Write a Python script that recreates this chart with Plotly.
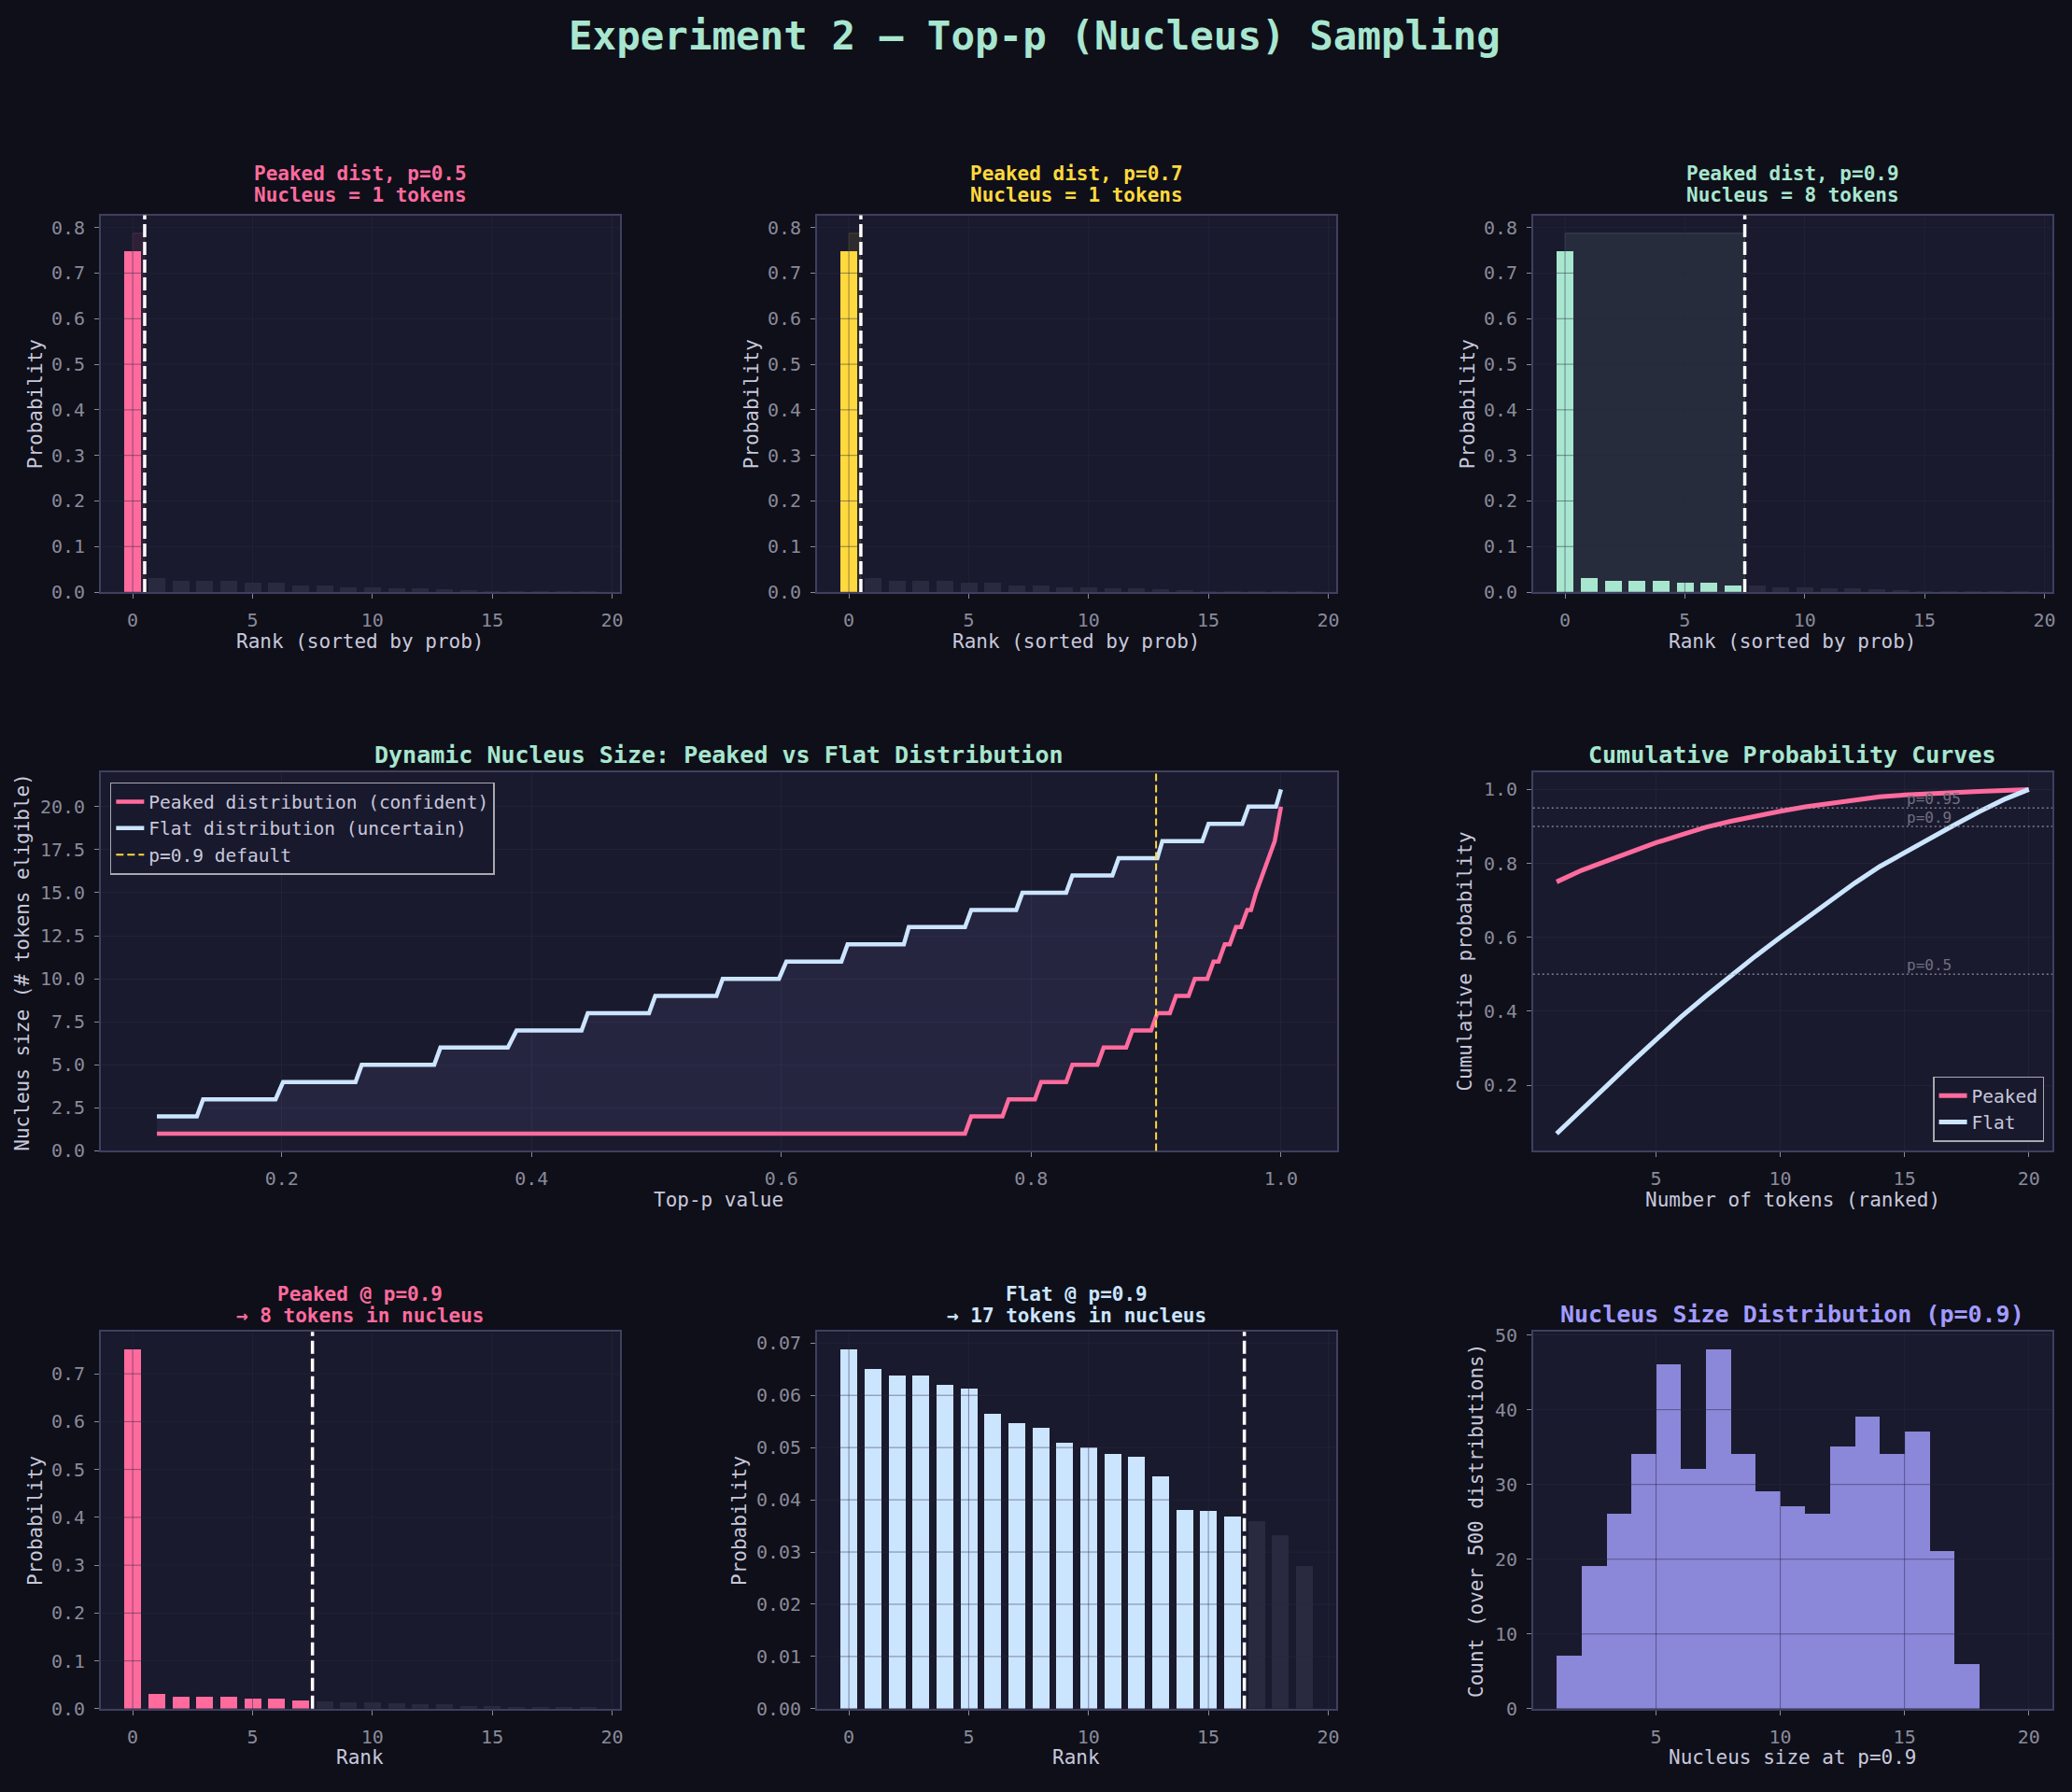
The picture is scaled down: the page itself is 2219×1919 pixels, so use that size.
import numpy as np
import plotly.graph_objects as go

W, H = 2219, 1919
FONT = "DejaVu Sans Mono"

# ---------------- data ----------------
ranks = list(range(20))
peaked_probs = [0.750, 0.031, 0.025, 0.025, 0.025, 0.021, 0.021, 0.016, 0.015, 0.012,
                0.012, 0.010, 0.009, 0.008, 0.005, 0.004, 0.003, 0.003, 0.002, 0.003]
flat_probs = [0.0687, 0.0650, 0.0637, 0.0637, 0.0619, 0.0613, 0.0564, 0.0547, 0.0537, 0.0509,
              0.0500, 0.0487, 0.0482, 0.0445, 0.0380, 0.0378, 0.0367, 0.0358, 0.0332, 0.0272]
top_p_values = [0.5, 0.7, 0.9]
P_DEFAULT = 0.9

# nucleus size vs top-p (plateaus: size, p where plateau starts, p where it ends)
peaked_sizes = [1, 2, 3, 4, 5, 6, 7, 8, 9, 10, 11, 12, 13, 14, 15, 16, 17, 18, 20]
peaked_p_from = [0.100, 0.752, 0.782, 0.808, 0.833, 0.858, 0.881, 0.901, 0.916, 0.931,
                 0.946, 0.955, 0.964, 0.973, 0.980, 0.985, 0.990, 0.995, 1.000]
peaked_p_to = [0.747, 0.777, 0.803, 0.828, 0.853, 0.876, 0.896, 0.911, 0.926, 0.941,
               0.950, 0.959, 0.968, 0.976, 0.980, 0.985, 0.990, 0.995, 1.000]
flat_sizes = [2, 3, 4, 5, 6, 7, 8, 9, 10, 11, 12, 13, 14, 15, 16, 17, 18, 19, 20, 21]
flat_p_from = [0.100, 0.137, 0.201, 0.264, 0.327, 0.388, 0.445, 0.499, 0.553, 0.604,
               0.653, 0.702, 0.752, 0.793, 0.833, 0.870, 0.905, 0.942, 0.974, 1.000]
flat_p_to = [0.132, 0.195, 0.259, 0.322, 0.381, 0.440, 0.494, 0.548, 0.598, 0.648,
             0.698, 0.747, 0.788, 0.828, 0.865, 0.901, 0.937, 0.969, 0.996, 1.000]

token_counts = list(range(1, 21))
threshold_values = [0.5, 0.9, 0.95]
threshold_labels = ["p=0.5", "p=0.9", "p=0.95"]
THRESH_LABEL_X = 15

hist_bin_left = list(range(1, 18))
hist_counts = [7, 19, 26, 34, 46, 32, 48, 34, 29, 27, 26, 35, 39, 34, 37, 21, 6]

# tick labels
rank_ticks = [0, 5, 10, 15, 20]
prob_ticks_top = [0.0, 0.1, 0.2, 0.3, 0.4, 0.5, 0.6, 0.7, 0.8]
prob_ticks_peaked = [0.0, 0.1, 0.2, 0.3, 0.4, 0.5, 0.6, 0.7]
prob_ticks_flat = [0.00, 0.01, 0.02, 0.03, 0.04, 0.05, 0.06, 0.07]
topp_ticks = [0.2, 0.4, 0.6, 0.8, 1.0]
size_ticks = [0.0, 2.5, 5.0, 7.5, 10.0, 12.5, 15.0, 17.5, 20.0]
count_ticks = [5, 10, 15, 20]
cum_ticks = [0.2, 0.4, 0.6, 0.8, 1.0]
hist_y_ticks = [0, 10, 20, 30, 40, 50]

# ---------------- style ----------------
BG = "#0e0f19"
AX_BG = "#1a1a2e"
SPINE = "#3f3f60"
GRID = "rgba(40,40,66,0.5)"
TICKLAB = "#8a8a9a"
AXLAB = "#c8c8dc"
PINK = "#ff6b9d"
YELLOW = "#ffd93d"
MINT = "#a8e6cf"
BLUE = "#cce5ff"
LAV = "#a29bfe"
HIST = "#8b87d9"
DIM = "#29293f"
TOP_COLORS = [PINK, YELLOW, MINT]


def rgba(hexc, a):
    h = hexc.lstrip("#")
    return "rgba(%d,%d,%d,%s)" % (int(h[0:2], 16), int(h[2:4], 16), int(h[4:6], 16), a)


# axes boxes in pixels: left, right, top, bottom
AX = {
    1: (108, 665, 224, 632),
    2: (876, 1433, 224, 632),
    3: (1644, 2201, 224, 632),
    4: (108, 1434, 827, 1237),
    5: (1644, 2201, 827, 1237),
    6: (108, 665, 1433, 1841),
    7: (876, 1433, 1433, 1841),
    8: (1644, 2201, 1433, 1841),
}


def px2x(p):
    return p / W


def px2y(p):
    return 1 - p / H


def sfx(i):
    return "" if i == 1 else str(i)


fig = go.Figure()
shapes = []
annotations = []
layout_axes = {}


def setup_axis(i, xrange, yrange, xticks, yticks, xfmt, yfmt, native_grid):
    s = sfx(i)
    x0, x1, y0, y1 = AX[i]
    common = dict(showline=True, mirror=True, linecolor=SPINE, linewidth=1.5,
                  ticks="outside", ticklen=5, tickwidth=1.2, tickcolor=TICKLAB,
                  tickfont=dict(family=FONT, size=20, color=TICKLAB),
                  ticklabelstandoff=6,
                  zeroline=False, showgrid=native_grid, gridcolor=GRID, gridwidth=1)
    layout_axes["xaxis" + s] = dict(domain=[px2x(x0), px2x(x1)], anchor="y" + s, range=xrange,
                                    tickvals=xticks, tickformat=xfmt, **common)
    layout_axes["yaxis" + s] = dict(domain=[px2y(y1), px2y(y0)], anchor="x" + s, range=yrange,
                                    tickvals=yticks, tickformat=yfmt, **common)


def grid_shapes(i, xticks, yticks, xrange, yrange):
    s = sfx(i)
    for t in xticks:
        if xrange[0] <= t <= xrange[1]:
            shapes.append(dict(type="line", layer="above", xref="x" + s, yref="y" + s + " domain",
                               x0=t, x1=t, y0=0, y1=1, line=dict(color=GRID, width=1)))
    for t in yticks:
        if yrange[0] <= t <= yrange[1]:
            shapes.append(dict(type="line", layer="above", xref="x" + s + " domain", yref="y" + s,
                               x0=0, x1=1, y0=t, y1=t, line=dict(color=GRID, width=1)))


def text_at(xpx, ypx, text, size, color, bold=False, angle=0):
    annotations.append(dict(x=px2x(xpx), y=px2y(ypx), xref="paper", yref="paper",
                            text=("<b>%s</b>" % text) if bold else text, showarrow=False,
                            xanchor="center", yanchor="middle", textangle=angle,
                            font=dict(family=FONT, size=size, color=color)))


def nucleus_size(probs, p):
    return int(np.searchsorted(np.cumsum(probs), p) + 1)


bar_lo = ranks[0] - 0.35
bar_hi = ranks[-1] + 0.35
bar_pad = 0.05 * (bar_hi - bar_lo)
bar_xrange = [bar_lo - bar_pad, bar_hi + bar_pad]


def cutoff_line(i, n):
    s = sfx(i)
    shapes.append(dict(type="line", layer="above", xref="x" + s, yref="y" + s + " domain",
                       x0=n - 0.5, x1=n - 0.5, y0=0, y1=1,
                       line=dict(color="white", width=3.5, dash="14px,5px")))


# ---------------- top row ----------------
for k, p in enumerate(top_p_values):
    i = k + 1
    s = sfx(i)
    c = TOP_COLORS[k]
    n = nucleus_size(peaked_probs, p)
    cols = [c if r < n else DIM for r in ranks]
    fig.add_trace(go.Bar(x=ranks, y=peaked_probs, width=0.7, marker=dict(color=cols, line=dict(width=0)),
                         xaxis="x" + s, yaxis="y" + s, showlegend=False))
    rect_top = max(peaked_probs) * 1.05
    shapes.append(dict(type="rect", layer="below", xref="x" + s, yref="y" + s,
                       x0=ranks[0], x1=n - 0.5, y0=0, y1=rect_top,
                       fillcolor=rgba(c, 0.09), line=dict(color=rgba(c, 0.18), width=1)))
    yr = [0, rect_top * 1.05]
    setup_axis(i, bar_xrange, yr, rank_ticks, prob_ticks_top, "d", ".1f", False)
    grid_shapes(i, rank_ticks, prob_ticks_top, bar_xrange, yr)
    cutoff_line(i, n)
    x0, x1, y0, y1 = AX[i]
    text_at((x0 + x1) / 2, 179, "Peaked dist, p=%s" % p, 21, c, bold=True)
    text_at((x0 + x1) / 2, 202, "Nucleus = %d tokens" % n, 21, c, bold=True)
    text_at((x0 + x1) / 2, 685, "Rank (sorted by prob)", 21, AXLAB)
    text_at(x0 - 70, (y0 + y1) / 2, "Probability", 21, AXLAB, angle=-90)

# ---------------- middle: dynamic nucleus size ----------------
def step_xy(sizes, p_from, p_to):
    xs, ys = [], []
    for sz, a, b in zip(sizes, p_from, p_to):
        xs += [a, b]
        ys += [sz, sz]
    return xs, ys


px_, py_ = step_xy(peaked_sizes, peaked_p_from, peaked_p_to)
fx_, fy_ = step_xy(flat_sizes, flat_p_from, flat_p_to)

fig.add_trace(go.Scatter(x=px_, y=py_, mode="lines", line=dict(width=0), showlegend=False,
                         hoverinfo="skip", xaxis="x4", yaxis="y4"))
fig.add_trace(go.Scatter(x=fx_, y=fy_, mode="lines", line=dict(width=0), fill="tonexty",
                         fillcolor=rgba(LAV, 0.09), showlegend=False, hoverinfo="skip",
                         xaxis="x4", yaxis="y4"))
fig.add_trace(go.Scatter(x=px_, y=py_, mode="lines", line=dict(color=PINK, width=4.5),
                         name="Peaked distribution (confident)", legend="legend", legendrank=1,
                         legendgroup="g1", xaxis="x4", yaxis="y4"))
fig.add_trace(go.Scatter(x=fx_, y=fy_, mode="lines", line=dict(color=BLUE, width=4.5),
                         name="Flat distribution (uncertain)", legend="legend", legendrank=2,
                         legendgroup="g2", xaxis="x4", yaxis="y4"))
shapes.append(dict(type="line", layer="above", xref="x4", yref="y4 domain", x0=P_DEFAULT, x1=P_DEFAULT,
                   y0=0, y1=1, line=dict(color=YELLOW, width=2, dash="8px,4px"),
                   showlegend=True, name="p=0.9 default", legend="legend", legendrank=3,
                   legendgroup="g3"))
mid_lo = min(peaked_p_from + flat_p_from)
mid_hi = max(peaked_p_to + flat_p_to)
mid_pad = 0.05 * (mid_hi - mid_lo)
size_lo = min(peaked_sizes + flat_sizes)
size_hi = max(peaked_sizes + flat_sizes)
size_pad = 0.05 * (size_hi - size_lo)
setup_axis(4, [mid_lo - mid_pad, mid_hi + mid_pad], [size_lo - size_pad, size_hi + size_pad],
           topp_ticks, size_ticks, ".1f", ".1f", True)
x0, x1, y0, y1 = AX[4]
text_at((x0 + x1) / 2, 808, "Dynamic Nucleus Size: Peaked vs Flat Distribution", 25, MINT, bold=True)
text_at((x0 + x1) / 2, 1290, "Top-p value", 21, AXLAB)
text_at(24, (y0 + y1) / 2, "Nucleus size (# tokens eligible)", 21, AXLAB, angle=-90)

# ---------------- middle right: cumulative curves ----------------
cum_peaked = np.cumsum(peaked_probs)
cum_flat = np.cumsum(flat_probs)
fig.add_trace(go.Scatter(x=token_counts, y=cum_peaked, mode="lines", line=dict(color=PINK, width=5),
                         name="Peaked", legend="legend2", legendgroup="c1", xaxis="x5", yaxis="y5"))
fig.add_trace(go.Scatter(x=token_counts, y=cum_flat, mode="lines", line=dict(color=BLUE, width=5),
                         name="Flat", legend="legend2", legendgroup="c2", xaxis="x5", yaxis="y5"))
for tv, tl in zip(threshold_values, threshold_labels):
    shapes.append(dict(type="line", layer="above", xref="x5 domain", yref="y5", x0=0, x1=1, y0=tv, y1=tv,
                       line=dict(color="rgba(160,160,178,0.75)", width=1.5, dash="2px,3px")))
    annotations.append(dict(x=THRESH_LABEL_X, y=tv, xref="x5", yref="y5", text=tl, showarrow=False,
                            xanchor="left", yanchor="bottom", yshift=-2,
                            font=dict(family=FONT, size=16, color="#6f6f82")))
cx_pad = 0.05 * (token_counts[-1] - token_counts[0])
all_cum = list(cum_peaked) + list(cum_flat)
cy_pad = 0.05 * (max(all_cum) - min(all_cum))
setup_axis(5, [token_counts[0] - cx_pad, token_counts[-1] + cx_pad],
           [min(all_cum) - cy_pad, max(all_cum) + cy_pad], count_ticks, cum_ticks, "d", ".1f", True)
x0, x1, y0, y1 = AX[5]
text_at((x0 + x1) / 2, 808, "Cumulative Probability Curves", 25, MINT, bold=True)
text_at((x0 + x1) / 2, 1290, "Number of tokens (ranked)", 21, AXLAB)
text_at(x0 - 73, (y0 + y1) / 2, "Cumulative probability", 21, AXLAB, angle=-90)

# ---------------- bottom row: peaked / flat at default p ----------------
for i, probs, c, label, yticks, yfmt, ylab_off in [
        (6, peaked_probs, PINK, "Peaked", prob_ticks_peaked, ".1f", 70),
        (7, flat_probs, BLUE, "Flat", prob_ticks_flat, ".2f", 83)]:
    s = sfx(i)
    n = nucleus_size(probs, P_DEFAULT)
    cols = [c if r < n else DIM for r in ranks]
    fig.add_trace(go.Bar(x=ranks, y=probs, width=0.7, marker=dict(color=cols, line=dict(width=0)),
                         xaxis="x" + s, yaxis="y" + s, showlegend=False))
    yr = [0, max(probs) * 1.05]
    setup_axis(i, bar_xrange, yr, rank_ticks, yticks, "d", yfmt, False)
    grid_shapes(i, rank_ticks, yticks, bar_xrange, yr)
    cutoff_line(i, n)
    x0, x1, y0, y1 = AX[i]
    text_at((x0 + x1) / 2, 1392, "%s @ p=%s" % (label, P_DEFAULT), 21, c, bold=True)
    text_at((x0 + x1) / 2, 1415, "→ %d tokens in nucleus" % n, 21, c, bold=True)
    text_at((x0 + x1) / 2, 1894, "Rank", 21, AXLAB)
    text_at(x0 - ylab_off, (y0 + y1) / 2, "Probability", 21, AXLAB, angle=-90)

# ---------------- bottom right: histogram ----------------
fig.add_trace(go.Bar(x=hist_bin_left, y=hist_counts, width=1, offset=0,
                     marker=dict(color=HIST, line=dict(width=0)), xaxis="x8", yaxis="y8", showlegend=False))
hx_lo, hx_hi = token_counts[0], token_counts[-1]
h_xr = [hx_lo - 0.05 * (hx_hi - hx_lo), hx_hi + 0.05 * (hx_hi - hx_lo)]
h_yr = [0, max(hist_counts) * 1.05]
setup_axis(8, h_xr, h_yr, count_ticks, hist_y_ticks, "d", "d", False)
grid_shapes(8, count_ticks, hist_y_ticks, h_xr, h_yr)
x0, x1, y0, y1 = AX[8]
text_at((x0 + x1) / 2, 1414, "Nucleus Size Distribution (p=%s)" % P_DEFAULT, 25, LAV, bold=True)
text_at((x0 + x1) / 2, 1894, "Nucleus size at p=%s" % P_DEFAULT, 21, AXLAB)
text_at(x0 - 61, (y0 + y1) / 2, "Count (over 500 distributions)", 21, AXLAB, angle=-90)

# ---------------- main title ----------------
text_at(W / 2, 30, "Experiment 2 — Top-p (Nucleus) Sampling", 42.5, MINT, bold=True)

fig.update_layout(
    width=W, height=H, margin=dict(l=0, r=0, t=0, b=0),
    paper_bgcolor=BG, plot_bgcolor=AX_BG,
    font=dict(family=FONT, color=AXLAB),
    bargap=0,
    shapes=shapes, annotations=annotations,
    legend=dict(x=px2x(118), y=px2y(838), xanchor="left", yanchor="top", traceorder="normal",
                tracegroupgap=1,
                bgcolor="rgba(26,26,46,0.9)", bordercolor="#a8a8b0", borderwidth=1.5,
                font=dict(family=FONT, size=19.5, color=AXLAB)),
    legend2=dict(x=px2x(2192), y=px2y(1227), xanchor="right", yanchor="bottom", traceorder="normal",
                 tracegroupgap=1,
                 bgcolor="rgba(26,26,46,0.9)", bordercolor="#a8a8b0", borderwidth=1.5,
                 font=dict(family=FONT, size=19.5, color=AXLAB)),
    **layout_axes,
)

fig.write_html("out.html")
